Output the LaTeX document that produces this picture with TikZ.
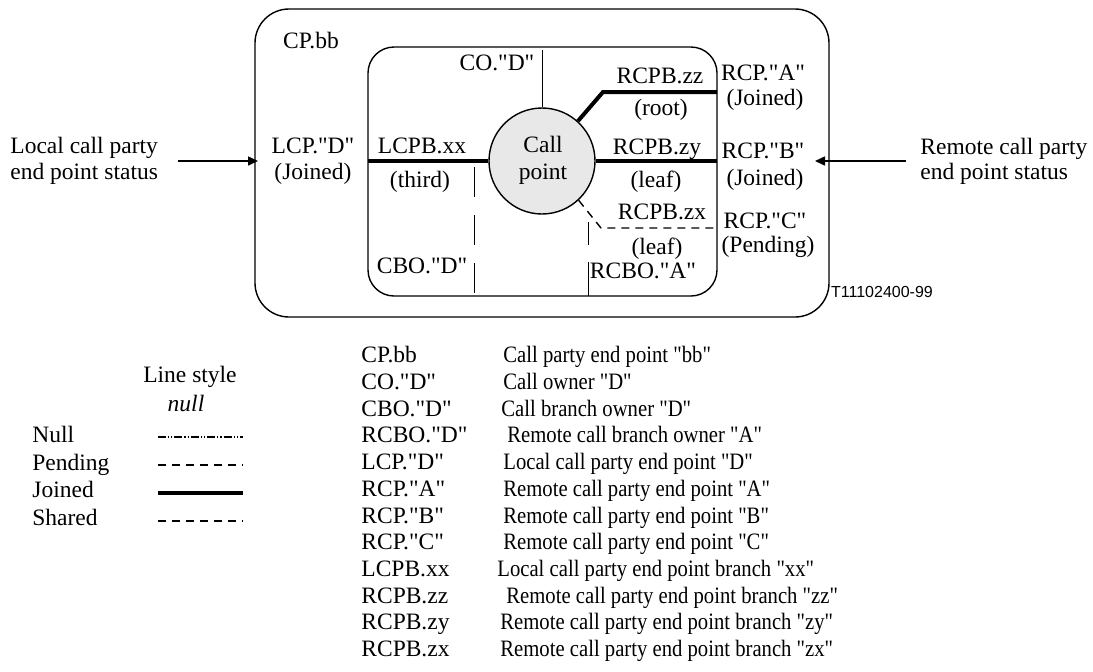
\documentclass[tikz,border=0pt]{standalone}
\usepackage{fontspec}
\setmainfont[Ligatures=TeXOff]{Liberation Serif}
\newfontfamily\condserif[Ligatures=TeXOff,FakeStretch=0.88]{Liberation Serif}
\newfontfamily\labelsans{Liberation Sans}
\usetikzlibrary{arrows.meta}
\begin{document}
\begin{tikzpicture}[x=0.5pt,y=-0.5pt,
  lbl/.style={inner sep=0pt, font=\fontsize{11.75}{14}\selectfont, text height=7.8pt, text depth=0pt},
  lblw/.style={lbl, anchor=west},
  desc/.style={lblw, font=\condserif\fontsize{11.75}{14}\selectfont},
  box/.style={draw, line width=0.7pt},
  joined/.style={line width=2pt},
  pending/.style={line width=0.7pt, dash pattern=on 4pt off 3pt},
  nullline/.style={line width=0.7pt, dash pattern=on 4pt off 1pt on 0.6pt off 1pt on 0.6pt off 1pt},
  owner/.style={line width=0.5pt},
  statusarrow/.style={line width=0.8pt, -{Triangle[length=5pt,width=4.5pt]}}
]
\useasboundingbox (0,0) rectangle (1093,671);

% boxes
\draw[box, rounded corners=17pt] (255,9) rectangle (829,317);
\draw[box, rounded corners=13pt] (368,47) rectangle (717,296);

% call point
\node[circle, draw, line width=0.7pt, fill=black!9, minimum size=53pt, inner sep=0pt] (cp) at (542,161) {};
\node[lbl] (call) at (543,145) {Call};
\node[lbl] (point) at (543,172) {point};

% edge coordinates on inner box
\coordinate (lin) at (368,161);
\coordinate (rzy) at (717,161);
\coordinate (rzzk) at (603,92);
\coordinate (rzz) at (717,92);
\coordinate (rzxk) at (601,228);
\coordinate (rzx) at (717,228);
\coordinate (cotop) at (542,50);
\coordinate (cbotop) at (474,167);
\coordinate (cbobot) at (474,296);
\coordinate (rcbotop) at (588,222);
\coordinate (rcbobot) at (588,296);

% branches
\draw[joined] (lin) -- (cp.west);
\draw[joined] (cp.east) -- (rzy);
\draw[joined] (cp.48) -- (rzzk) -- (rzz);
\draw[pending] (cp.-47) -- (rzxk) -- (rzx);

% owner lines
\draw[owner] (cotop) -- (cp.north);
\draw[owner, dash pattern=on 15pt off 9pt] (cbotop) -- (cbobot);
\draw[owner, dash pattern=on 17pt off 8.5pt on 11.5pt off 20pt] (rcbobot) -- (rcbotop);

% labels in diagram
\node[lbl] (cpbb) at (311,41) {CP.bb};
\node[lbl] (co) at (497,63) {CO."D"};
\node[lbl] (lcp) at (313,146) {LCP."D"};
\node[lbl] (lcpj) at (313,172) {(Joined)};
\node[lbl] (lcpb) at (422,146) {LCPB.xx};
\node[lbl] (third) at (420,180) {(third)};
\node[lbl] (cbo) at (422,266) {CBO."D"};
\node[lbl] (rzzl) at (660,76) {RCPB.zz};
\node[lbl] (root) at (661,108) {(root)};
\node[lbl] (rzyl) at (657,147) {RCPB.zy};
\node[lbl] (leafa) at (656,180) {(leaf)};
\node[lbl] (rzxl) at (662,212) {RCPB.zx};
\node[lbl] (leafb) at (657,247) {(leaf)};
\node[lbl] (rcbo) at (643,271) {RCBO."A"};
\node[lbl] (rcpa) at (763,73) {RCP."A"};
\node[lbl] (rcpaj) at (765,98) {(Joined)};
\node[lbl] (rcpb) at (763,151) {RCP."B"};
\node[lbl] (rcpbj) at (765,178) {(Joined)};
\node[lbl] (rcpc) at (765,221) {RCP."C"};
\node[lbl] (rcpcp) at (768,245) {(Pending)};

% status texts and arrows
\node[lblw] (lst1) at (10,146) {Local call party};
\node[lblw] (lst2) at (10,172) {end point status};
\node[lblw] (rst1) at (920,147) {Remote call party};
\node[lblw] (rst2) at (920,172) {end point status};
\coordinate (lfrom) at (178,161);
\coordinate (lto) at (258,161);
\coordinate (rfrom) at (906,161);
\coordinate (rto) at (815,161);
\draw[statusarrow] (lfrom) -- (lto);
\draw[statusarrow] (rfrom) -- (rto);

\node[inner sep=0pt, font=\labelsans\fontsize{8}{9}\selectfont, text height=5.8pt, text depth=0pt] (fig) at (882,292) {T11102400-99};

% legend
\node[lbl] (ls) at (190,375) {Line style};
\node[lbl] (nl) at (186,404) {\itshape null};
\node[lblw] (lnull) at (32,435) {Null};
\node[lblw] (lpend) at (32,463) {Pending};
\node[lblw] (ljoin) at (32,490) {Joined};
\node[lblw] (lshar) at (32,518) {Shared};
\coordinate (n1) at (158,437); \coordinate (n2) at (243,437);
\coordinate (p1) at (158,465); \coordinate (p2) at (243,465);
\coordinate (j1) at (158,493); \coordinate (j2) at (243,493);
\coordinate (s1) at (158,521); \coordinate (s2) at (243,521);
\draw[nullline] (n1) -- (n2);
\draw[pending] (p1) -- (p2);
\draw[joined] (j1) -- (j2);
\draw[pending] (s1) -- (s2);

% table
\foreach \k/\a/\bx/\b in {
 0/CP.bb/503/Call party end point "bb",
 1/CO."D"/503/Call owner "D",
 2/CBO."D"/501/Call branch owner "D",
 3/RCBO."D"/507/Remote call branch owner "A",
 4/LCP."D"/503/Local call party end point "D",
 5/RCP."A"/503/Remote call party end point "A",
 6/RCP."B"/503/Remote call party end point "B",
 7/RCP."C"/503/Remote call party end point "C",
 8/LCPB.xx/497/Local call party end point branch "xx",
 9/RCPB.zz/506/Remote call party end point branch "zz",
 10/RCPB.zy/500/Remote call party end point branch "zy",
 11/RCPB.zx/500/Remote call party end point branch "zx"}{
  \node[lblw] (ta\k) at (361,355+26.7*\k) {\a};
  \node[desc] (tb\k) at (\bx,355+26.7*\k) {\b};
}
\end{tikzpicture}
\end{document}
